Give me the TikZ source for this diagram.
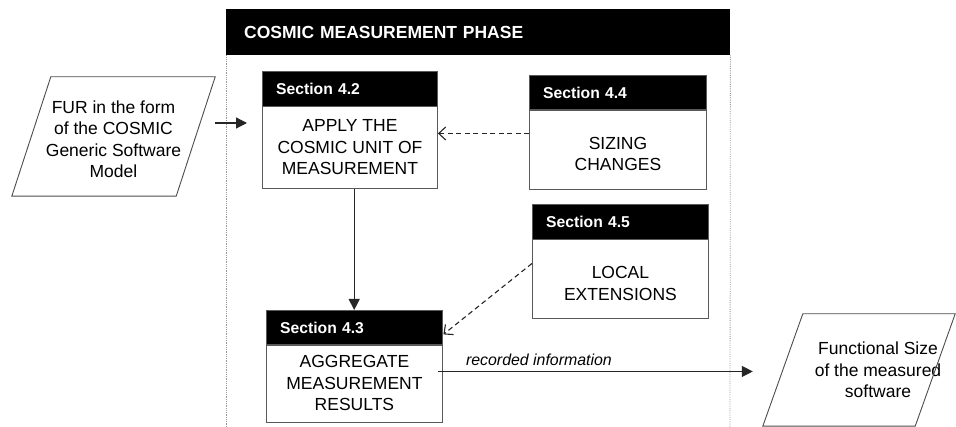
\documentclass[tikz,border=0pt]{standalone}
\usepackage{fontspec}
\setmainfont{Liberation Sans}
\usetikzlibrary{arrows.meta}

\tikzset{
  sechead/.style={fill=black, draw=black!65, anchor=north west, minimum height=35pt,
    inner xsep=14pt, text=white, font=\fontsize{15.7}{19}\selectfont\bfseries, align=left},
  secbody/.style={draw=black!65, line width=0.9pt, anchor=north west, align=center,
    font=\fontsize{17.5}{21.5}\selectfont},
  phasehead/.style={fill=black, anchor=north west, minimum width=504pt, minimum height=46pt,
    inner xsep=18pt, text width=468pt, align=left, text=white,
    font=\fontsize{17.5}{21}\selectfont\bfseries},
  frameside/.style={draw=black!40, line width=0.8pt, densely dotted},
  datashape/.style={draw=none, align=center, font=\fontsize{17.5}{21.5}\selectfont},
  paraline/.style={draw=black!70, line width=0.9pt},
  flow/.style={draw=black!85, line width=1.2pt, -{Triangle[length=11pt,width=11pt]}},
  aux/.style={draw=black!85, line width=1.1pt, dash pattern=on 5pt off 3.5pt,
    -{Straight Barb[length=7pt,width=13pt,line width=1.1pt]}},
  lbl/.style={font=\fontsize{15.9}{19}\selectfont\itshape}
}

\begin{document}
\begin{tikzpicture}[x=1pt,y=-1pt]
\useasboundingbox (0,0) rectangle (956,427);

% measurement phase frame
\node[phasehead] (phase) at (226,9) {COSMIC MEASUREMENT PHASE};
\coordinate (fbl) at (226,427);
\coordinate (fbr) at (730,427);
\draw[frameside] (phase.south west) -- (fbl);
\draw[frameside] (phase.south east) -- (fbr);

% Section 4.2
\node[sechead, minimum width=175pt, text width=147pt] (h42) at (262,71) {Section 4.2};
\node[secbody, minimum width=175pt, minimum height=82pt] (b42) at (262,106)
  {APPLY THE\\COSMIC UNIT OF\\MEASUREMENT};

% Section 4.4
\node[sechead, minimum width=177pt, text width=149pt] (h44) at (529,75) {Section 4.4};
\node[secbody, minimum width=177pt, minimum height=80pt] (b44) at (529,109)
  {\mbox{}\\SIZING\\CHANGES};

% Section 4.5
\node[sechead, minimum width=176pt, text width=148pt] (h45) at (532,204) {Section 4.5};
\node[secbody, minimum width=176pt, minimum height=79pt] (b45) at (532,239)
  {\mbox{}\\LOCAL\\EXTENSIONS};

% Section 4.3
\node[sechead, minimum width=176pt, text width=148pt] (h43) at (266,310) {Section 4.3};
\node[secbody, minimum width=176pt, minimum height=78pt] (b43) at (266,344)
  {AGGREGATE\\MEASUREMENT\\RESULTS};

% input data
\node[datashape, minimum width=203pt, minimum height=119pt] (fur) at (113.5,139)
  {FUR in the form\\of the COSMIC\\Generic Software\\Model};
\draw[paraline] ([xshift=39pt,yshift=2.5pt]fur.north west) -- ([yshift=2.5pt]fur.north east)
  -- ([xshift=-39pt,yshift=2.5pt]fur.south east) -- ([yshift=2.5pt]fur.south west) -- cycle;

% output data
\node[datashape, minimum width=192pt, minimum height=112pt] (fsz) at (859,370) {};
\node[datashape] (fszt) at (878,370) {Functional Size\\of the measured\\software};
\draw[paraline] ([xshift=40pt]fsz.north west) -- (fsz.north east)
  -- ([xshift=-40pt]fsz.south east) -- (fsz.south west) -- cycle;

% connectors
\draw[flow, shorten >=15pt] ([yshift=16pt]fur.east) -- ([yshift=16pt]fur.east -| b42.west);
\draw[flow] (b42.south -| h43.north) -- (h43.north);
\draw[aux] ([yshift=16pt]b44.west) -- ([yshift=16pt]b44.west -| b42.east);
\draw[aux] ([yshift=15.5pt]b45.west) -- ([xshift=1pt,yshift=11pt]h43.south east);
\draw[flow, shorten <=-5pt, shorten >=10pt] ([yshift=12pt]b43.east) -- ([yshift=12pt]b43.east -| fsz.west)
  node[lbl, pos=0.06, anchor=south west, yshift=2pt] {recorded information};

\end{tikzpicture}
\end{document}
